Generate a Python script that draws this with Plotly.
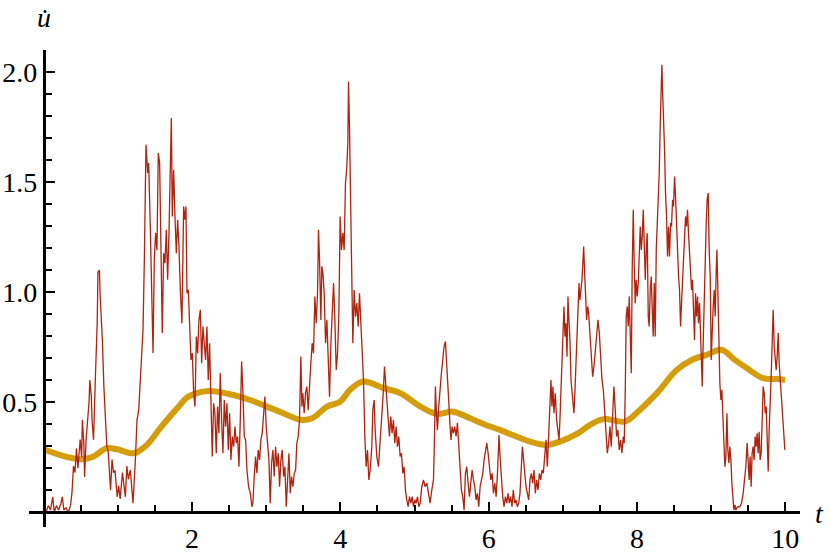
import plotly.graph_objects as go

# ---- noisy signal (red), segment by segment: (t, u) ----
red_seg_a = [(0.00,0.02),(0.03,0.0),(0.06,0.03),(0.09,0.01),(0.12,0.07),(0.14,0.0),(0.17,0.03),(0.20,0.01),
             (0.23,0.04),(0.25,0.07),(0.27,0.01),(0.30,0.02),(0.33,0.0),(0.36,0.03),(0.38,0.09),(0.40,0.21),
             (0.42,0.18),(0.44,0.29),(0.46,0.20),(0.47,0.24),(0.49,0.33),(0.51,0.25),(0.52,0.42),(0.54,0.31),
             (0.55,0.16),(0.57,0.33),(0.59,0.42),(0.61,0.50),(0.62,0.60),(0.64,0.53),(0.65,0.42),(0.67,0.33),
             (0.70,0.66),(0.72,0.86),(0.73,1.09),(0.75,1.10),(0.76,0.98),(0.79,0.78),(0.81,0.57),(0.83,0.39),
             (0.85,0.30),(0.87,0.27),(0.90,0.10),(0.92,0.24),(0.94,0.18),(0.96,0.19),(0.99,0.07),(1.01,0.12),
             (1.03,0.06),(1.06,0.18),(1.08,0.13),(1.10,0.07),(1.12,0.21),(1.14,0.15)]
red_seg_b = [(1.167,0.192),(1.203,0.041),(1.235,0.238),(1.257,0.42),(1.28,0.465),(1.302,0.616),(1.338,0.829),
             (1.356,1.147),(1.378,1.67),(1.401,1.541),(1.414,1.586),(1.437,1.283),(1.45,1.056),(1.473,0.723),
             (1.49,1.147),(1.508,1.268),(1.526,1.192),(1.544,1.632),(1.562,1.586),(1.58,1.207),(1.598,0.814),
             (1.616,1.177),(1.634,1.132),(1.652,1.283),(1.67,1.056),(1.688,1.268),(1.706,1.571),(1.72,1.791),
             (1.733,1.344),(1.751,1.556),(1.769,1.344),(1.787,1.177),(1.805,1.329),(1.823,1.207),(1.841,1.01),
             (1.863,0.859),(1.886,1.389),(1.904,1.329),(1.917,1.389),(1.931,0.995),(1.949,1.01),(1.967,0.844),
             (1.985,0.692),(2.003,0.723),(2.021,0.541),(2.039,0.48),(2.057,0.798),(2.075,0.723),(2.093,0.874),
             (2.111,0.92),(2.129,0.677),(2.146,0.844),(2.164,0.768),(2.182,0.692),(2.2,0.844),(2.218,0.601),
             (2.236,0.768),(2.254,0.465),(2.272,0.253),(2.29,0.495),(2.308,0.45),(2.326,0.268),(2.344,0.48),
             (2.362,0.359),(2.38,0.632),(2.398,0.42),(2.416,0.268),(2.434,0.51),(2.452,0.389),(2.47,0.495),
             (2.488,0.283),(2.506,0.45),(2.524,0.238),(2.542,0.344),(2.56,0.298),(2.578,0.389),(2.596,0.314),
             (2.614,0.344),(2.632,0.207),(2.65,0.42),(2.668,0.685),(2.686,0.541),(2.704,0.344),(2.722,0.329),
             (2.74,0.192),(2.762,0.116),(2.785,0.086),(2.807,0.025)]
red_seg_c = [(2.82,0.041),(2.838,0.162),(2.856,0.253),(2.874,0.177),(2.892,0.283),(2.91,0.238),(2.928,0.329),
             (2.946,0.359),(2.964,0.45),(2.982,0.526),(3.0,0.389),(3.018,0.298),(3.036,0.238),(3.054,0.041),
             (3.072,0.223),(3.09,0.283),(3.108,0.162),(3.126,0.298),(3.144,0.207),(3.162,0.268),(3.18,0.116),
             (3.198,0.238),(3.216,0.283),(3.234,0.162),(3.252,0.207),(3.27,0.025),(3.288,0.147),(3.306,0.268),
             (3.324,0.086),(3.342,0.162),(3.36,0.116),(3.378,0.177),(3.396,0.192),(3.413,0.314),(3.431,0.344),
             (3.449,0.42),(3.467,0.707),(3.481,0.48),(3.494,0.541),(3.512,0.45),(3.53,0.541),(3.548,0.571),
             (3.566,0.465),(3.584,0.601),(3.602,0.677),(3.62,0.768),(3.638,0.723),(3.656,0.98),(3.674,0.859),
             (3.692,0.995),(3.705,1.283),(3.719,1.147),(3.737,0.874),(3.75,1.117),(3.764,1.086),(3.782,0.995),
             (3.8,0.768),(3.818,0.874),(3.836,0.692),(3.854,0.525),(3.872,0.768),(3.89,0.889),(3.908,1.041),
             (3.926,0.874),(3.944,0.647),(3.962,0.723),(3.98,0.904),(3.997,1.344),(4.015,1.192),(4.033,1.268),
             (4.051,1.192),(4.069,1.495),(4.087,1.571),(4.101,1.677),(4.11,1.957),(4.123,1.753),(4.137,1.48),
             (4.15,1.207),(4.168,0.768),(4.186,1.01),(4.204,0.889),(4.222,0.95),(4.24,0.844),(4.258,0.995),
             (4.276,0.874),(4.294,0.753),(4.312,0.601),(4.33,0.344),(4.348,0.207),(4.366,0.283),(4.384,0.147)]
red_seg_d = [(4.402,0.192),(4.424,0.298),(4.438,0.465),(4.456,0.51),(4.469,0.374),(4.492,0.253),(4.514,0.207),
             (4.536,0.314),(4.559,0.45),(4.581,0.556),(4.595,0.662),(4.612,0.586),(4.626,0.495),(4.648,0.389),
             (4.662,0.344),(4.68,0.435),(4.698,0.359),(4.716,0.42),(4.734,0.314),(4.752,0.389),(4.77,0.298),
             (4.788,0.344),(4.806,0.253),(4.824,0.268),(4.842,0.177),(4.86,0.207),(4.878,0.101),(4.896,0.056),
             (4.914,0.025),(4.932,0.071),(4.95,0.041),(4.968,0.071),(4.986,0.025),(5.004,0.056),(5.022,0.041),
             (5.04,0.071),(5.058,0.025),(5.076,0.041),(5.098,0.116),(5.121,0.147),(5.143,0.116),(5.166,0.132),
             (5.188,0.086),(5.211,0.041),(5.233,0.101),(5.256,0.147),(5.269,0.329),(5.282,0.571),(5.296,0.45),
             (5.309,0.374),(5.327,0.48),(5.345,0.586),(5.363,0.632),(5.381,0.692),(5.399,0.753),(5.417,0.776),
             (5.435,0.677),(5.453,0.601),(5.466,0.48),(5.48,0.389),(5.493,0.329),(5.507,0.389),(5.525,0.359),
             (5.543,0.389),(5.561,0.344),(5.579,0.405),(5.597,0.298),(5.615,0.192),(5.633,0.101),(5.651,0.071),
             (5.669,0.01),(5.687,0.177),(5.705,0.207),(5.723,0.132),(5.741,0.071),(5.759,0.132),(5.777,0.192),
             (5.795,0.147),(5.813,0.116),(5.831,0.056),(5.849,0.086),(5.867,0.025),(5.885,0.116),(5.903,0.147),
             (5.921,0.177),(5.939,0.238),(5.957,0.268),(5.975,0.314),(5.993,0.268),(6.011,0.207),(6.029,0.147),
             (6.047,0.177),(6.065,0.086),(6.083,0.132),(6.101,0.071),(6.119,0.177)]
red_seg_e = [(6.14,0.351),(6.154,0.253),(6.172,0.147),(6.19,0.071),(6.208,0.025),(6.226,0.071),(6.244,0.041),
             (6.262,0.086),(6.279,0.041),(6.297,0.071),(6.315,0.025),(6.333,0.101),(6.351,0.041),(6.369,0.056),
             (6.387,0.025),(6.405,0.041),(6.423,0.086),(6.441,0.207),(6.455,0.298),(6.468,0.253),(6.486,0.177),
             (6.504,0.116),(6.522,0.086),(6.54,0.056),(6.558,0.147),(6.576,0.177),(6.594,0.132),(6.612,0.192),
             (6.63,0.086),(6.648,0.147),(6.666,0.101),(6.684,0.177),(6.702,0.147),(6.72,0.192),(6.738,0.177),
             (6.756,0.238),(6.774,0.329),(6.792,0.207),(6.81,0.359),(6.827,0.45),(6.841,0.601),(6.854,0.48),
             (6.868,0.571),(6.881,0.45),(6.899,0.541),(6.917,0.42),(6.935,0.359),(6.949,0.329),(6.962,0.42),
             (6.976,0.556),(6.989,0.632),(7.003,0.814),(7.016,0.935),(7.03,0.798),(7.043,0.859),(7.057,0.707),
             (7.07,0.98),(7.083,0.874),(7.097,0.783),(7.111,0.601),(7.124,0.541),(7.138,0.48),(7.151,0.45),
             (7.165,0.556),(7.178,0.662),(7.192,0.814),(7.205,0.92),(7.219,1.041),(7.232,0.965),(7.246,1.01),
             (7.259,1.056),(7.273,1.147),(7.282,1.207),(7.295,1.086),(7.309,0.965),(7.322,0.874),(7.336,0.935),
             (7.349,0.905),(7.363,0.829),(7.376,0.753),(7.39,0.692),(7.403,0.616),(7.421,0.662),(7.439,0.723),
             (7.457,0.783),(7.475,0.874),(7.493,0.814),(7.511,0.692),(7.529,0.601),(7.547,0.556),(7.565,0.45),
             (7.583,0.389),(7.601,0.268),(7.619,0.314)]
red_seg_f = [(7.636,0.389),(7.654,0.298),(7.672,0.435),(7.69,0.571),(7.708,0.465),(7.726,0.344),(7.744,0.374),
             (7.762,0.283),(7.78,0.329),(7.798,0.268),(7.816,0.344),(7.829,0.314),(7.843,0.556),(7.856,0.889),
             (7.87,0.935),(7.883,0.844),(7.897,0.98),(7.91,0.798),(7.924,0.632),(7.937,1.116),(7.951,1.374),
             (7.964,1.116),(7.978,0.95),(7.991,1.056),(8.005,0.98),(8.018,1.041),(8.032,1.207),(8.045,1.298),
             (8.059,1.192),(8.072,1.253),(8.086,1.374),(8.099,1.162),(8.113,1.056),(8.126,1.192),(8.139,1.268),
             (8.153,0.889),(8.166,0.844),(8.18,1.01),(8.193,1.071),(8.207,0.92),(8.22,0.798),(8.234,1.041),
             (8.247,0.798),(8.261,1.192),(8.274,1.314),(8.288,1.465),(8.301,1.541),(8.315,1.768),(8.328,1.95),
             (8.337,2.033),(8.346,1.92),(8.359,1.798),(8.373,1.647),(8.386,1.45),(8.4,1.344),(8.413,1.162),
             (8.427,1.298),(8.44,1.162),(8.454,1.314),(8.467,1.298),(8.481,1.42),(8.494,1.389),(8.508,1.525),
             (8.521,1.435),(8.535,1.298),(8.548,1.162),(8.562,1.071),(8.575,1.01),(8.589,0.844),(8.602,0.95),
             (8.616,1.071),(8.629,1.162),(8.643,1.283),(8.656,1.344),(8.669,1.298),(8.683,1.374),(8.696,1.268),
             (8.71,1.192),(8.723,1.116),(8.737,1.01),(8.75,1.056),(8.764,0.92),(8.777,0.783),(8.791,0.995),
             (8.804,0.889),(8.818,0.98),(8.831,0.859),(8.845,0.95),(8.858,0.814),(8.872,0.738),(8.881,0.571),
             (8.894,0.768),(8.908,0.965),(8.921,1.238),(8.935,1.314),(8.948,1.42),(8.962,1.45),(8.975,1.192),
             (8.989,1.071),(9.002,0.692),(9.016,0.889),(9.029,0.935),(9.043,1.01),(9.056,0.889),(9.07,1.101),
             (9.079,1.192),(9.092,1.01),(9.106,0.738),(9.119,0.586),(9.133,0.51),(9.146,0.556),(9.16,0.435),
             (9.173,0.314),(9.187,0.207),(9.2,0.253),(9.214,0.45),(9.227,0.283),(9.241,0.223),(9.254,0.298),
             (9.268,0.238),(9.281,0.132),(9.295,0.056),(9.308,0.01),(9.322,0.033),(9.335,0.01),(9.349,0.02),
             (9.362,0.025)]
red_seg_g = [(9.388,0.025),(9.411,0.041),(9.433,0.086),(9.456,0.147),(9.469,0.207),(9.487,0.314),(9.5,0.207),
             (9.514,0.147),(9.527,0.253),(9.541,0.116),(9.554,0.268),(9.568,0.298),(9.581,0.238),(9.595,0.344),
             (9.608,0.298),(9.622,0.359),(9.635,0.268),(9.649,0.366),(9.662,0.238),(9.676,0.268),(9.69,0.42),
             (9.703,0.571),(9.717,0.541),(9.73,0.45),(9.744,0.48),(9.757,0.329),(9.771,0.185),(9.784,0.374),
             (9.798,0.48),(9.811,0.616),(9.825,0.776),(9.838,0.92),(9.852,0.753),(9.865,0.692),(9.879,0.647),
             (9.892,0.707),(9.906,0.814),(9.919,0.677),(9.933,0.601),(9.946,0.526),(9.96,0.45),(9.973,0.389),
             (9.987,0.329),(9.996,0.283)]

# ---- smooth average (gold) ----
avg_t = [0.0, 0.2, 0.40, 0.54, 0.67, 0.85, 0.99, 1.21, 1.39, 1.57, 1.80, 1.95, 2.22, 2.51, 2.78, 3.01, 3.23,
         3.46, 3.62, 3.82, 4.00, 4.13, 4.31, 4.58, 4.81, 5.08, 5.30, 5.52, 5.75, 5.93, 6.15, 6.56, 6.78, 6.96,
         7.19, 7.37, 7.55, 7.84, 8.04, 8.27, 8.54, 8.76, 8.94, 9.14, 9.32, 9.48, 9.70, 9.88, 10.0]
avg_u = [0.286, 0.262, 0.245, 0.241, 0.253, 0.291, 0.286, 0.268, 0.306, 0.382, 0.473, 0.525, 0.551, 0.536,
         0.510, 0.480, 0.450, 0.420, 0.427, 0.480, 0.503, 0.556, 0.594, 0.564, 0.541, 0.480, 0.447, 0.457,
         0.427, 0.401, 0.374, 0.321, 0.306, 0.321, 0.356, 0.397, 0.423, 0.412, 0.465, 0.541, 0.647, 0.695,
         0.715, 0.738, 0.692, 0.655, 0.609, 0.605, 0.601]

# ---- ticks ----
x_major = [2, 4, 6, 8, 10]
x_major_text = ["2", "4", "6", "8", "10"]
x_minor = [0.5, 1, 1.5, 2.5, 3, 3.5, 4.5, 5, 5.5, 6.5, 7, 7.5, 8.5, 9, 9.5]
y_major = [0.5, 1.0, 1.5, 2.0]
y_major_text = ["0.5", "1.0", "1.5", "2.0"]
y_minor = [0.1, 0.2, 0.3, 0.4, 0.6, 0.7, 0.8, 0.9, 1.1, 1.2, 1.3, 1.4, 1.6, 1.7, 1.8, 1.9, 2.1]

red_segments = [red_seg_a, red_seg_b, red_seg_c, red_seg_d, red_seg_e, red_seg_f, red_seg_g]
red_t = [p[0] for seg in red_segments for p in seg]
red_u = [p[1] for seg in red_segments for p in seg]

X_RANGE = [-0.2, 10.2]
Y_RANGE = [-0.067, 2.1]
FONT = "Liberation Serif"

fig = go.Figure()
fig.add_trace(go.Scatter(x=avg_t, y=avg_u, mode="lines", line=dict(color="#D49D0B", width=6, shape="spline"),
                         hoverinfo="skip"))
fig.add_trace(go.Scatter(x=red_t, y=red_u, mode="lines", line=dict(color="#B0230F", width=1.3),
                         hoverinfo="skip"))

fig.update_layout(
    width=830, height=553,
    margin=dict(l=28.6, r=29.7, t=50.3, b=26, pad=0, autoexpand=False),
    paper_bgcolor="white", plot_bgcolor="white",
    showlegend=False,
    xaxis=dict(range=X_RANGE, showgrid=False, zeroline=False, showline=True, linecolor="black", linewidth=3,
               anchor="free", position=(0 - Y_RANGE[0]) / (Y_RANGE[1] - Y_RANGE[0]), automargin=False,
               tickmode="array", tickvals=x_major, ticktext=x_major_text,
               ticks="inside", ticklen=9, tickwidth=2, tickcolor="black",
               tickfont=dict(family=FONT, size=28, color="black"),
               minor=dict(tickmode="array", tickvals=x_minor, ticks="inside", ticklen=6, tickwidth=2,
                          tickcolor="black", showgrid=False)),
    yaxis=dict(range=Y_RANGE, showgrid=False, zeroline=False, showline=True, linecolor="black", linewidth=3,
               anchor="free", position=(0 - X_RANGE[0]) / (X_RANGE[1] - X_RANGE[0]), automargin=False,
               tickmode="array", tickvals=y_major, ticktext=y_major_text,
               ticks="inside", ticklen=9, tickwidth=2, tickcolor="black",
               tickfont=dict(family=FONT, size=28, color="black"),
               minor=dict(tickmode="array", tickvals=y_minor, ticks="inside", ticklen=6, tickwidth=2,
                          tickcolor="black", showgrid=False)),
    annotations=[
        dict(text="<i>t</i>", xref="paper", yref="paper", x=1.0256, y=0.0283, xanchor="center",
             yanchor="middle", showarrow=False, font=dict(family=FONT, size=28, color="black")),
        dict(text="<i>u\u0307</i>", xref="paper", yref="paper", x=0.02, y=1.069, xanchor="center",
             yanchor="middle", showarrow=False, font=dict(family=FONT, size=28, color="black")),
    ],
)

fig.write_html("out.html", config={"displayModeBar": False},
               post_script="document.body.style.margin='0px';document.body.style.overflow='hidden';")
